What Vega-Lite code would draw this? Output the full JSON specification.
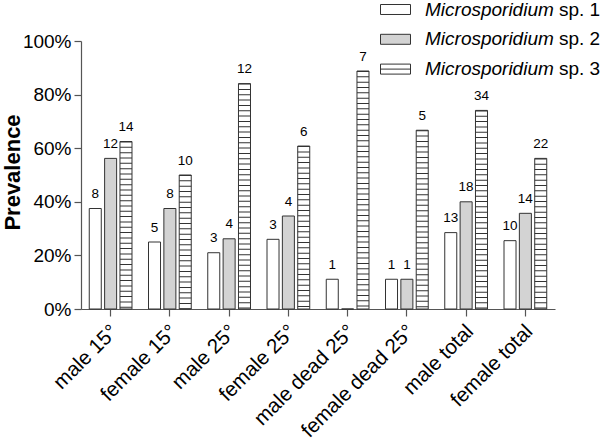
{
  "$schema": "https://vega.github.io/schema/vega-lite/v6.json",
  "width": 474,
  "height": 268,
  "autosize": {"type": "none"},
  "padding": {"left": 81, "top": 41, "right": 45, "bottom": 130},
  "background": "white",
  "config": {
    "font": "Liberation Sans",
    "view": {"stroke": null},
    "axis": {"labelColor": "#000", "titleColor": "#000", "domainColor": "#555", "tickColor": "#555", "domainWidth": 1.2, "tickWidth": 1.2, "tickSize": 7, "grid": false}
  },
  "data": {
    "values": [
      {"cat": "male 15°", "series": "Microsporidium sp. 1", "sp": "sp. 1", "value": 37.5, "n": 8},
      {"cat": "male 15°", "series": "Microsporidium sp. 2", "sp": "sp. 2", "value": 56.2, "n": 12},
      {"cat": "male 15°", "series": "Microsporidium sp. 3", "sp": "sp. 3", "value": 62.5, "n": 14},
      {"cat": "female 15°", "series": "Microsporidium sp. 1", "sp": "sp. 1", "value": 25.0, "n": 5},
      {"cat": "female 15°", "series": "Microsporidium sp. 2", "sp": "sp. 2", "value": 37.5, "n": 8},
      {"cat": "female 15°", "series": "Microsporidium sp. 3", "sp": "sp. 3", "value": 50.0, "n": 10},
      {"cat": "male 25°", "series": "Microsporidium sp. 1", "sp": "sp. 1", "value": 21.0, "n": 3},
      {"cat": "male 25°", "series": "Microsporidium sp. 2", "sp": "sp. 2", "value": 26.2, "n": 4},
      {"cat": "male 25°", "series": "Microsporidium sp. 3", "sp": "sp. 3", "value": 84.1, "n": 12},
      {"cat": "female 25°", "series": "Microsporidium sp. 1", "sp": "sp. 1", "value": 26.0, "n": 3},
      {"cat": "female 25°", "series": "Microsporidium sp. 2", "sp": "sp. 2", "value": 34.7, "n": 4},
      {"cat": "female 25°", "series": "Microsporidium sp. 3", "sp": "sp. 3", "value": 60.8, "n": 6},
      {"cat": "male dead 25°", "series": "Microsporidium sp. 1", "sp": "sp. 1", "value": 11.1, "n": 1},
      {"cat": "male dead 25°", "series": "Microsporidium sp. 2", "sp": "sp. 2", "value": 0, "n": null},
      {"cat": "male dead 25°", "series": "Microsporidium sp. 3", "sp": "sp. 3", "value": 88.8, "n": 7},
      {"cat": "female dead 25°", "series": "Microsporidium sp. 1", "sp": "sp. 1", "value": 11.1, "n": 1},
      {"cat": "female dead 25°", "series": "Microsporidium sp. 2", "sp": "sp. 2", "value": 11.1, "n": 1},
      {"cat": "female dead 25°", "series": "Microsporidium sp. 3", "sp": "sp. 3", "value": 66.7, "n": 5},
      {"cat": "male total", "series": "Microsporidium sp. 1", "sp": "sp. 1", "value": 28.5, "n": 13},
      {"cat": "male total", "series": "Microsporidium sp. 2", "sp": "sp. 2", "value": 40.0, "n": 18},
      {"cat": "male total", "series": "Microsporidium sp. 3", "sp": "sp. 3", "value": 74.1, "n": 34},
      {"cat": "female total", "series": "Microsporidium sp. 1", "sp": "sp. 1", "value": 25.5, "n": 10},
      {"cat": "female total", "series": "Microsporidium sp. 2", "sp": "sp. 2", "value": 35.7, "n": 14},
      {"cat": "female total", "series": "Microsporidium sp. 3", "sp": "sp. 3", "value": 56.2, "n": 22}
    ]
  },
  "encoding": {
    "x": {
      "field": "cat", "type": "nominal", "sort": null,
      "scale": {"paddingInner": 0.279, "paddingOuter": 0.1395},
      "axis": {"title": null, "labelAngle": -45, "labelAlign": "right", "labelBaseline": "top", "labelFontSize": 20.5, "labelPadding": 5, "labelOffset": -3, "labelLimit": 300}
    },
    "xOffset": {"field": "series", "type": "nominal", "scale": {"paddingInner": 0.218, "paddingOuter": 0}},
    "y": {
      "field": "value", "type": "quantitative",
      "scale": {"domain": [0, 100], "nice": false},
      "axis": {"title": "Prevalence", "titleFontSize": 22, "titleFontWeight": "bold", "titleX": -69, "titleY": 131, "titleAngle": -90, "titleAlign": "center", "titleBaseline": "middle", "values": [0, 20, 40, 60, 80, 100], "labelExpr": "datum.value + '%'", "labelFontSize": 19, "labelPadding": 3}
    }
  },
  "layer": [
    {
      "mark": {"type": "bar", "stroke": "#333", "strokeWidth": 1},
      "encoding": {
        "fill": {
          "field": "series", "type": "nominal",
          "scale": {"range": ["#ffffff", "#d3d3d3", "#ffffff"]},
          "legend": {
            "orient": "none", "legendX": 299, "legendY": -47, "title": null,
            "symbolType": "M-1,-0.333H1V0.333H-1Z",
            "symbolSize": 900, "labelOffset": 14, "rowPadding": 3.8,
            "symbolStrokeColor": "#333", "symbolStrokeWidth": 1,
            "labelFontSize": 19, "labelFontStyle": "italic", "labelColor": "#000", "labelLimit": 300,
            "labelExpr": "'Microsporidium'"
          }
        }
      }
    },
    {
      "transform": [{"filter": "datum.series === 'Microsporidium sp. 3'"}],
      "mark": {"type": "rule", "color": "#333", "strokeWidth": 12, "strokeDash": [1, 4.33]},
      "encoding": {"y2": {"datum": 0}}
    },
    {
      "transform": [{"filter": "datum.n != null"}],
      "mark": {"type": "text", "baseline": "alphabetic", "dy": -10.5, "fontSize": 13.5, "color": "#000"},
      "encoding": {"text": {"field": "n", "type": "quantitative"}}
    },
    {
      "mark": {"type": "point", "opacity": 0, "color": "#333", "stroke": "#333", "strokeWidth": 1},
      "encoding": {
        "shape": {
          "field": "sp", "type": "nominal",
          "scale": {"range": ["M0,0", "M0,0", "M-1,0H1"]},
          "legend": {
            "orient": "none", "legendX": 299, "legendY": -47, "title": null,
            "symbolSize": 900, "labelOffset": 148, "rowPadding": 3.8,
            "symbolOpacity": 1, "symbolFillColor": "transparent", "symbolStrokeColor": "#333", "symbolStrokeWidth": 1,
            "labelFontSize": 19, "labelColor": "#000", "labelLimit": 300
          }
        }
      }
    }
  ]
}
